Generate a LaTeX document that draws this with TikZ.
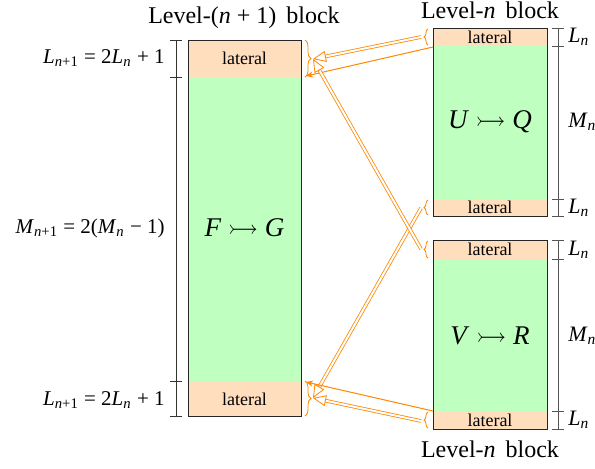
\documentclass[tikz,border=0pt]{standalone}
\usepackage{fontspec}
\setmainfont{Liberation Serif}
\usepackage{amssymb}
\usetikzlibrary{arrows.meta,decorations.pathreplacing,calc}
\definecolor{latc}{RGB}{255,222,190}
\definecolor{midc}{RGB}{191,255,191}
\definecolor{arrc}{RGB}{255,136,0}
\definecolor{dimc}{RGB}{85,85,85}
\newcommand{\vi}[1]{\textit{#1}}
\newcommand{\sbs}[1]{\textsubscript{#1}}
\newcommand{\dblarrow}[2]{%
  \draw[dblline] (#1) -- (#2);
  \draw[dbltip] ($(#2)!6.5pt!(#1)$) -- (#2);}
\begin{document}
\begin{tikzpicture}[x=0.5pt,y=-0.5pt,
  every node/.style={font=\rmfamily},
  blk/.style={draw=black!85,line width=0.5pt},
  lattext/.style={font=\rmfamily\fontsize{9}{10}\selectfont,inner sep=0pt},
  bigtext/.style={font=\rmfamily\fontsize{13.5}{15}\selectfont,inner sep=0pt},
  lvl/.style={font=\rmfamily\fontsize{12}{14}\selectfont,inner sep=0pt},
  lbl/.style={font=\rmfamily\fontsize{10.5}{12}\selectfont,inner sep=0pt},
  rlbl/.style={font=\rmfamily\fontsize{11}{12}\selectfont,inner sep=0pt,anchor=west},
  dimline/.style={draw=dimc,line width=0.5pt},
  ldimline/.style={draw=black!80,line width=0.5pt},
  brc/.style={draw=arrc,line width=0.4pt,decorate,decoration={brace,amplitude=3pt}},
  rbrc/.style={draw=arrc,line width=0.4pt,decorate,decoration={brace,amplitude=2pt,mirror}},
  dblline/.style={draw=arrc,double=white,line width=0.4pt,double distance=1pt,shorten >=6.3pt},
  dbltip/.style={draw=arrc,line width=0.4pt,-{Triangle[open,fill=white,length=6.5pt,width=5.5pt]}},
  thin/.style={draw=arrc,line width=0.5pt,-{Stealth[length=3.5pt,width=3pt]}}
]
\useasboundingbox (0,0) rectangle (595,468);
% ---- left block
\fill[midc] (188,40) rectangle (301,416);
\fill[latc] (188,40) rectangle (301,77);
\fill[latc] (188,381) rectangle (301,416);
\draw[blk] (188,40) rectangle (301,416);
\node[lattext] (latLT) at (244.5,58.5) {lateral};
\node[lattext] (latLB) at (244.5,399.5) {lateral};
\node[bigtext] (FG) at (244.5,228) {\vi{F} $\rightarrowtail$ \vi{G}};
\node[lvl] (lvlL) at (244,18) {Level-(\vi{n} + 1)\, block};
% ---- right top block
\fill[midc] (433,28) rectangle (547,216);
\fill[latc] (433,28) rectangle (547,46);
\fill[latc] (433,199) rectangle (547,216);
\draw[blk] (433,28) rectangle (547,216);
\node[lattext] (latT1) at (490,37) {lateral};
\node[lattext] (latT2) at (490,207.5) {lateral};
\node[bigtext] (UQ) at (490,122) {\vi{U} $\rightarrowtail$ \vi{Q}};
\node[lvl] (lvlT) at (490,10) {Level-\vi{n}\, block};
% ---- right bottom block
\fill[midc] (433,240) rectangle (547,429);
\fill[latc] (433,240) rectangle (547,259);
\fill[latc] (433,411) rectangle (547,429);
\draw[blk] (433,240) rectangle (547,429);
\node[lattext] (latB1) at (490,249.5) {lateral};
\node[lattext] (latB2) at (490,420) {lateral};
\node[bigtext] (VR) at (490,336) {\vi{V} $\rightarrowtail$ \vi{R}};
\node[lvl] (lvlB) at (490,449) {Level-\vi{n}\, block};
% ---- left dimensions
\draw[ldimline] (176,40) -- (176,416);
\foreach \yy in {40,77,381,416} \draw[ldimline] (170,\yy) -- (182,\yy);
\node[lbl,anchor=east] (eqL1) at (165,58) {\vi{L}\sbs{\vi{n}+1} = 2\vi{L}\sbs{\vi{n}} + 1};
\node[lbl,anchor=east] (eqM) at (165,228) {\vi{M}\sbs{\vi{n}+1} = 2(\vi{M}\sbs{\vi{n}} − 1)};
\node[lbl,anchor=east] (eqL2) at (165,400) {\vi{L}\sbs{\vi{n}+1} = 2\vi{L}\sbs{\vi{n}} + 1};
% ---- right dimensions
\draw[dimline] (558,28) -- (558,216);
\draw[dimline] (558,240) -- (558,429);
\foreach \yy in {28,46,199,216,240,259,411,429} \draw[dimline] (552,\yy) -- (564,\yy);
\node[rlbl] (Ln1) at (568,37) {\vi{L}\sbs{\vi{n}}};
\node[rlbl] (Mn1) at (568,122) {\vi{M}\sbs{\vi{n}}};
\node[rlbl] (Ln2) at (568,208) {\vi{L}\sbs{\vi{n}}};
\node[rlbl] (Ln3) at (568,250) {\vi{L}\sbs{\vi{n}}};
\node[rlbl] (Mn2) at (568,336) {\vi{M}\sbs{\vi{n}}};
\node[rlbl] (Ln4) at (568,420) {\vi{L}\sbs{\vi{n}}};
% ---- braces
\draw[brc] (305,40) -- (305,77);
\draw[brc] (305,381) -- (305,416);
\draw[rbrc] (428,29) -- (428,45);
\draw[rbrc] (428,200) -- (428,215);
\draw[rbrc] (428,241) -- (428,258);
\draw[rbrc] (428,412) -- (428,428);
\coordinate (tipLT) at (313,59);
\coordinate (tipLB) at (313,398);
\coordinate (endLT) at (306,76);
\coordinate (endLB) at (306,382);
\coordinate (sT1) at (421,37);
\coordinate (sT2) at (421,208);
\coordinate (sB1) at (421,249);
\coordinate (sB2) at (421,421);
\coordinate (gT) at (433,47);
\coordinate (gB) at (433,411);
% ---- arrows
\dblarrow{sT1}{tipLT}
\draw[thin] (gT) -- (endLT);
\dblarrow{sT2}{tipLB}
\dblarrow{sB1}{tipLT}
\draw[thin] (gB) -- (endLB);
\dblarrow{sB2}{tipLB}
\end{tikzpicture}
\end{document}
